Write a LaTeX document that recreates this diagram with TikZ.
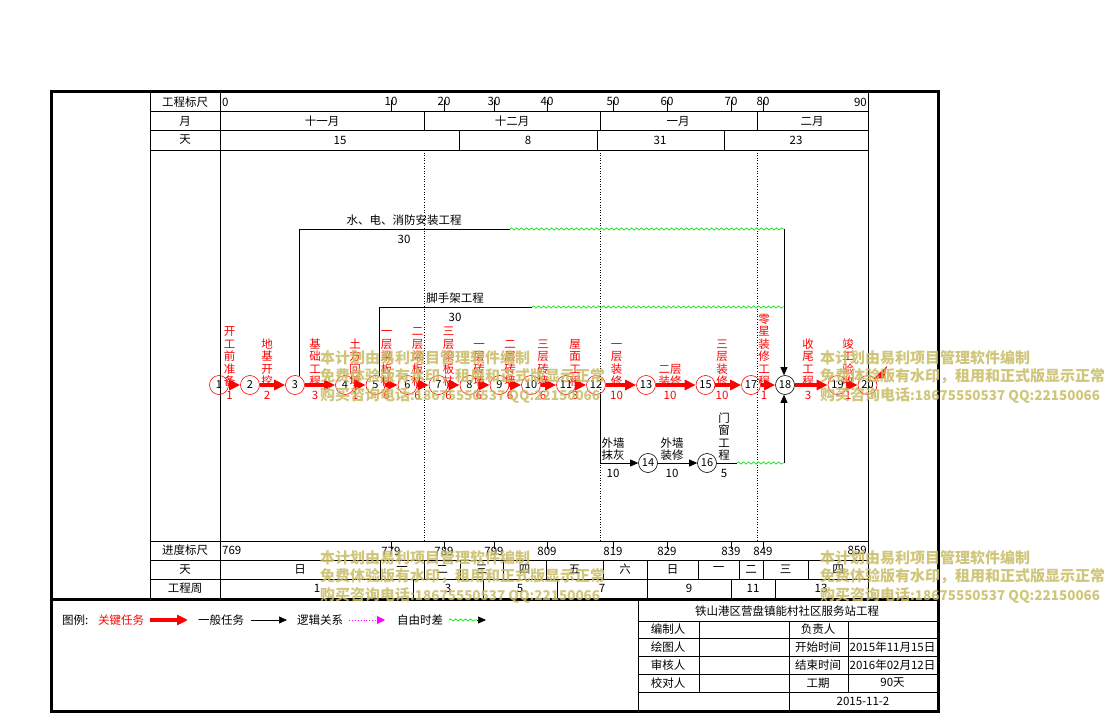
\documentclass[tikz,border=0pt]{standalone}
\usepackage{fontspec}
\setmainfont{Noto Sans CJK SC}
\usepackage{tikz}
\usetikzlibrary{arrows.meta,decorations.pathmorphing,calc}
\definecolor{crit}{RGB}{255,0,0}
\definecolor{slack}{RGB}{20,225,20}
\definecolor{logic}{RGB}{255,0,255}
\definecolor{wmark}{RGB}{200,188,100}

\begin{document}
\begin{tikzpicture}[
  x=1pt,y=-1pt,
  font=\fontsize{11.5}{13}\selectfont,
  grid/.style={line width=0.6pt},
  frame/.style={line width=3.5pt},
  monthline/.style={dotted,line width=0.6pt},
  event/.style={circle,draw=crit,line width=0.6pt,minimum size=19pt,inner sep=0pt,font=\fontsize{11}{12}\selectfont},
  eventb/.style={event,draw=black},
  critical/.style={crit,line width=3.5pt,-{Triangle[length=11pt,width=10pt]}},
  normal/.style={line width=0.7pt,-{Triangle[length=8pt,width=7pt]}},
  plain/.style={line width=0.7pt},
  wavy/.style={slack,line width=0.7pt,decorate,decoration={snake,amplitude=1.1pt,segment length=5pt}},
  task/.style={crit,anchor=south,align=center,inner sep=0pt,font=\fontsize{11.5}{12.5}\selectfont},
  dur/.style={crit,inner sep=0pt},
  blacktask/.style={task,black},
  blackdur/.style={inner sep=0pt},
  watermark/.style={wmark,anchor=north west,align=left,inner sep=0pt,opacity=0.85,font=\fontsize{15}{18.5}\selectfont\bfseries}
]
\useasboundingbox (0,0) rectangle (1104,717);

% frame and table
\draw[frame] (51.5,91.5) rectangle (938.5,711.5);
\draw[line width=3pt] (50,599.5) -- (940,599.5);
\draw[grid] (150,93) -- (150,598) (220,93) -- (220,598) (868,93) -- (868,598);
\draw[grid] (150,111) -- (868,111) (150,130) -- (868,130) (150,150) -- (868,150);
\draw[grid] (150,541) -- (868,541) (150,560) -- (868,560) (150,579) -- (868,579);
\foreach \x in {424,600,757} {
  \draw[grid] (\x,111) -- (\x,130);
  \draw[monthline] (\x,150) -- (\x,541);
}
\foreach \x in {459,597,724}
  \draw[grid] (\x,130) -- (\x,150);
\foreach \x in {380,424,460,503,546,603,647,698,739,763,808}
  \draw[grid] (\x,560) -- (\x,579);
\foreach \x in {413,483,557,647,731,775}
  \draw[grid] (\x,579) -- (\x,598);

% row heads
\node (hScale) at (185,102) {工程标尺};
\node (hMonth) at (185,121) {月};
\node (hDay) at (185,140) {天};
\node (fScale) at (185,550.5) {进度标尺};
\node (fDay) at (185,569.5) {天};
\node (fWeek) at (185,588.5) {工程周};

% scales
\node[anchor=west,inner sep=0pt] (top0) at (222,102) {0};
\node[anchor=east,inner sep=0pt] (top90) at (867,102) {90};
\node[anchor=west,inner sep=0pt] (bot769) at (222,550) {769};
\node[anchor=east,inner sep=0pt] (bot859) at (867,550) {859};
\foreach \x/\t/\b in {391/10/779,444/20/789,494/30/799,547/40/809,613/50/819,667/60/829,731/70/839,763/80/849} {
  \draw[grid] (\x,111) -- (\x,100);
  \node[inner sep=0pt] (top\t) at (\x,101.5) {\t};
  \draw[grid] (\x,541) -- (\x,549);
  \node[inner sep=0pt] (bot\b) at (\x,551) {\b};
}

% months and days
\node (m11) at (322,121) {十一月};
\node (m12) at (512,121) {十二月};
\node (m1) at (678,121) {一月};
\node (m2) at (812,121) {二月};
\node (d15) at (340,140) {15};
\node (d8) at (528,140) {8};
\node (d31) at (660,140) {31};
\node (d23) at (796,140) {23};

% weekdays and weeks
\node (w1) at (300,569.5) {日};
\node (w2) at (402,569.5) {一};
\node (w3) at (442,569.5) {二};
\node (w4) at (481.5,569.5) {三};
\node (w5) at (524.5,569.5) {四};
\node (w6) at (574.5,569.5) {五};
\node (w7) at (625,569.5) {六};
\node (w8) at (672.5,569.5) {日};
\node (w9) at (718.5,569.5) {一};
\node (w10) at (751,569.5) {二};
\node (w11) at (785.5,569.5) {三};
\node (w12) at (838,569.5) {四};
\node (k1) at (317,588.5) {1};
\node (k3) at (448,588.5) {3};
\node (k5) at (520,588.5) {5};
\node (k7) at (602,588.5) {7};
\node (k9) at (689,588.5) {9};
\node (k11) at (753,588.5) {11};
\node (k13) at (821,588.5) {13};

% events
\node[event] (N1) at (219,385) {1};
\node[event] (N2) at (250,385) {2};
\node[event] (N3) at (295,385) {3};
\node[event] (N4) at (345,385) {4};
\node[event] (N5) at (375.5,385) {5};
\node[event] (N6) at (407.5,385) {6};
\node[event] (N7) at (438.5,385) {7};
\node[event] (N8) at (469.5,385) {8};
\node[event] (N9) at (499.5,385) {9};
\node[event] (N10) at (531,385) {10};
\node[event] (N11) at (566,385) {11};
\node[event] (N12) at (596,385) {12};
\node[event] (N13) at (646,385) {13};
\node[event] (N15) at (705.5,385) {15};
\node[event] (N17) at (751,385) {17};
\node[eventb] (N18) at (785,385) {18};
\node[event] (N19) at (837.5,385) {19};
\node[event] (N20) at (867.5,385) {20};
\node[eventb] (N14) at (648,463) {14};
\node[eventb] (N16) at (707,463) {16};

% critical path
\foreach \a/\b in {1/2,2/3,3/4,4/5,5/6,6/7,7/8,8/9,9/10,10/11,11/12,12/13,13/15,15/17,17/18,18/19,19/20}
  \draw[critical] (N\a) -- (N\b);
\fill[crit] (873,379) -- (887,366) -- (884,378) -- cycle;

\node[task] (T1) at (229.5,387) {开\\工\\前\\准\\备};
\node[task] (T2) at (267,387) {地\\基\\开\\挖};
\node[task] (T3) at (315,387) {基\\础\\工\\程};
\node[task] (T4) at (355,387) {土\\方\\回\\填};
\node[task] (T5) at (386.5,387) {一\\层\\梁\\板\\柱};
\node[task] (T6) at (417.5,387) {二\\层\\梁\\板\\柱};
\node[task] (T7) at (448.5,387) {三\\层\\梁\\板\\柱};
\node[task] (T8) at (479,387) {一\\层\\砖\\墙};
\node[task] (T9) at (510,387) {二\\层\\砖\\墙};
\node[task] (T10) at (543,387) {三\\层\\砖\\墙};
\node[task] (T11) at (575,387) {屋\\面\\工\\程};
\node[task] (T12) at (616.5,387) {一\\层\\装\\修};
\node[task] (T13) at (670,387) {二层\\装修};
\node[task] (T15) at (722,387) {三\\层\\装\\修};
\node[task] (T17) at (764,387) {零\\星\\装\\修\\工\\程};
\node[task] (T18) at (808,387) {收\\尾\\工\\程};
\node[task] (T19) at (848,387) {竣\\工\\验\\收};

\node[dur] (D1) at (229.5,395) {1};
\node[dur] (D2) at (267,395) {2};
\node[dur] (D3) at (315,395) {3};
\node[dur] (D4) at (355,395) {1};
\node[dur] (D5) at (386.5,395) {6};
\node[dur] (D6) at (417.5,395) {6};
\node[dur] (D7) at (448.5,395) {6};
\node[dur] (D8) at (479,395) {6};
\node[dur] (D9) at (510,395) {6};
\node[dur] (D10) at (543,395) {6};
\node[dur] (D11) at (575,395) {3};
\node[dur] (D12) at (616.5,395) {10};
\node[dur] (D13) at (670,395) {10};
\node[dur] (D15) at (722,395) {10};
\node[dur] (D17) at (764,395) {1};
\node[dur] (D18) at (808,395) {3};
\node[dur] (D19) at (848,395) {1};

% water, power and fire works
\coordinate (W1) at (510,229);
\coordinate (W2) at (784,229);
\draw[plain] (N3.65) |- (W1);
\draw[wavy] (W1) -- (W2);
\draw[normal] (W2) -- (W2 |- N18.north);
\node (Wlbl) at (404,220) {水、电、消防安装工程};
\node (Wdur) at (404,239) {30};

% scaffolding
\coordinate (S1) at (532,307);
\coordinate (S2) at (784,307);
\draw[plain] (N5.65) |- (S1);
\draw[wavy] (S1) -- (S2);
\node (Slbl) at (455,298.5) {脚手架工程};
\node (Sdur) at (455,317) {30};

% outer walls and windows
\coordinate (R1) at (737,463);
\coordinate (R2) at (784,463);
\draw[normal] (N12.-65) |- (N14);
\draw[normal] (N14) -- (N16);
\draw[plain] (N16) -- (R1);
\draw[wavy] (R1) -- (R2);
\draw[normal] (R2) -- (R2 |- N18.south);
\node[blacktask] (T14) at (613,461) {外墙\\抹灰};
\node[blacktask] (T16) at (672,461) {外墙\\装修};
\node[blacktask] (TR) at (724,461) {门\\窗\\工\\程};
\node[blackdur] (D14) at (613,473) {10};
\node[blackdur] (D16) at (672,473) {10};
\node[blackdur] (DR) at (724,473) {5};

% legend
\node[anchor=west,inner sep=0pt] (legTitle) at (62,620) {图例:};
\node[anchor=west,inner sep=0pt,crit] (legCrit) at (98,620) {关键任务};
\coordinate (lc1) at (150,620);
\coordinate (lc2) at (188,620);
\draw[critical] (lc1) -- (lc2);
\node[anchor=west,inner sep=0pt] (legNorm) at (198,620) {一般任务};
\coordinate (ln1) at (251,620);
\coordinate (ln2) at (287,620);
\draw[normal] (ln1) -- (ln2);
\node[anchor=west,inner sep=0pt] (legLogic) at (297,620) {逻辑关系};
\coordinate (ll1) at (349,620);
\coordinate (ll2) at (385,620);
\draw[logic,dotted,line width=0.9pt,-{Triangle[length=8pt,width=8pt]}] (ll1) -- (ll2);
\node[anchor=west,inner sep=0pt] (legSlack) at (397,620) {自由时差};
\coordinate (lf1) at (449,620);
\coordinate (lf2) at (477,620);
\coordinate (lf3) at (486,620);
\draw[wavy] (lf1) -- (lf2);
\draw[normal] (lf2) -- (lf3);

% title block
\draw[grid] (638,600) -- (638,710);
\foreach \y in {621,638,656,674,692}
  \draw[grid] (638,\y) -- (937,\y);
\draw[grid] (699,621) -- (699,692) (848,621) -- (848,692) (789,621) -- (789,710);
\node (bTitle) at (787,611) {铁山港区营盘镇能村社区服务站工程};
\node (bEdit) at (668,629.5) {编制人};
\node (bDraw) at (668,647) {绘图人};
\node (bCheck) at (668,665) {审核人};
\node (bProof) at (668,683) {校对人};
\node (bLead) at (818,629.5) {负责人};
\node (bStart) at (818,647) {开始时间};
\node (bEnd) at (818,665) {结束时间};
\node (bDur) at (818,683) {工期};
\node (vStart) at (892.5,647) {2015年11月15日};
\node (vEnd) at (892.5,665) {2016年02月12日};
\node (vDur) at (892.5,683) {90天};
\node (vDate) at (863,701) {2015-11-2};

% trial watermark
\foreach \wx/\wy [count=\i] in {320/350,820/350,320/550,820/550}
  \node[watermark] (mark\i) at (\wx,\wy) {本计划由易利项目管理软件编制\\免费体验版有水印，租用和正式版显示正常\\购买咨询电话{\fontsize{13.5}{18.5}\selectfont:18675550537 QQ:22150066}};
\end{tikzpicture}
\end{document}
